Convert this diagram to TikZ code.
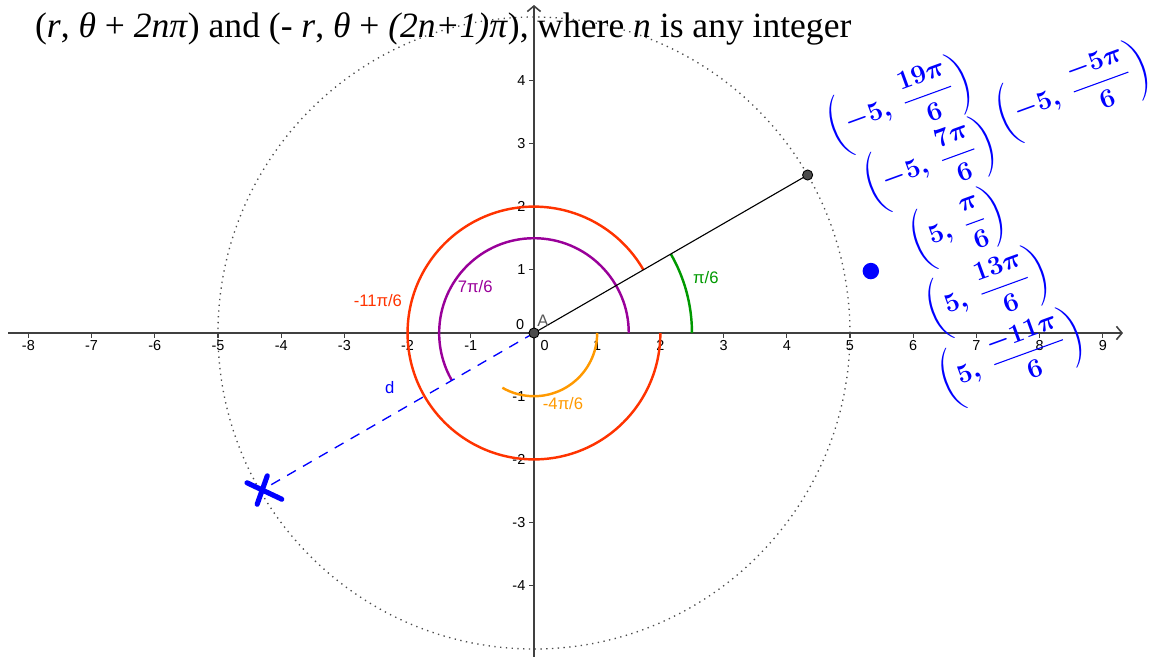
\documentclass[tikz,border=0pt]{standalone}
\usepackage{fontspec}
\usepackage{amsmath}
\setmainfont{Liberation Serif}
\newfontfamily\ggb{Liberation Sans}
\usetikzlibrary{arrows.meta}
\definecolor{ggbred}{RGB}{255,51,0}
\definecolor{ggbpurple}{RGB}{153,0,153}
\definecolor{ggbgreen}{RGB}{0,153,0}
\definecolor{ggborange}{RGB}{255,153,0}
\definecolor{axisgray}{RGB}{64,64,64}
\definecolor{ink}{RGB}{0,0,255}
\tikzset{
 axisline/.style={axisgray, line width=0.7pt, -{Straight Barb[length=2.5pt,width=6pt]}},
 tickmark/.style={axisgray, line width=0.6pt},
 ticklabel/.style={font=\ggb\fontsize{6.5}{7}\selectfont, inner sep=0pt},
 arcline/.style={line width=1.1pt},
 arclabel/.style={font=\ggb\fontsize{7.5}{9}\selectfont, inner sep=0pt},
 ptdot/.style={circle, fill=black!70, draw=black, line width=0.4pt, minimum size=0.16cm, inner sep=0pt},
 hand/.style={ink, font=\fontsize{13}{15}\selectfont\boldmath, rotate=20, inner sep=0pt},
 inkstroke/.style={ink, line width=2.3pt, line cap=round},
}
\begin{document}
\begin{tikzpicture}[x=1cm,y=1cm]
\useasboundingbox (-8.449,-5.111) rectangle (9.763,5.269);
% dotted circle
\draw[black!70, dotted, line width=0.6pt] (0,0) circle (5);
% axes
\draw[axisline] (-8.32,0) -- (9.32,0);
\draw[axisline] (0,-5.2) -- (0,5.19);
\foreach \x in {-8,-7,-6,-5,-4,-3,-2,-1,1,2,3,4,5,6,7,8,9} {
  \draw[tickmark] (\x,0) -- (\x,-0.08);
  \node[ticklabel] (xl\x) at (\x,-0.2) {\x};
}
\foreach \y in {-4,-3,-2,-1,1,2,3,4} {
  \draw[tickmark] (0,\y) -- (-0.08,\y);
  \node[ticklabel, anchor=east] (yl\y) at (-0.13,\y) {\y};
}
\node[ticklabel] (zeroA) at (-0.22,0.13) {0};
\node[ticklabel] (zeroB) at (0.17,-0.2) {0};
% points
\coordinate (Oc) at (0,0);
\coordinate (P) at (30:5);
\coordinate (Q) at (210:5);
% arcs
\draw[arcline, ggbred] (2,0) arc[start angle=0, end angle=-330, radius=2];
\draw[arcline, ggbpurple] (1.5,0) arc[start angle=0, end angle=210, radius=1.5];
\draw[arcline, ggborange] (1,0) arc[start angle=0, end angle=-120, radius=1];
\draw[arcline, ggbgreen] (2.5,0) arc[start angle=0, end angle=30, radius=2.5];
% segments
\draw[black, line width=0.5pt] (Oc) -- (P);
\draw[ink, dash pattern=on 0.16cm off 0.13cm, line width=0.6pt] (Oc) -- (Q);
\node[ptdot] (O) at (Oc) {};
\node[ptdot] (Pd) at (P) {};
% labels
\node[arclabel, text=black!65] (A) at (0.14,0.2) {A};
\node[arclabel, text=ggbgreen] (lg) at (2.72,0.87) {π/6};
\node[arclabel, text=ggbpurple] (lp) at (-0.93,0.73) {7π/6};
\node[arclabel, text=ggbred] (lr) at (-2.47,0.52) {-11π/6};
\node[arclabel, text=ggborange] (lo) at (0.46,-1.12) {-4π/6};
\node[arclabel, text=ink] (ld) at (-2.28,-0.87) {d};
% title
\node[anchor=base west, font=\fontsize{16}{18}\selectfont, inner sep=0pt] (title) at (-7.9,4.672)
 {(\textit{r}, \textit{θ} + \textit{2nπ}) and (- \textit{r}, \textit{θ} + \textit{(2n+1)π}), where \textit{n} is any integer};
% handwritten annotations
\node[hand] (h1) at (5.79,3.61) {$\left(-5,\ \dfrac{19\pi}{6}\right)$};
\node[hand] (h2) at (6.27,2.66) {$\left(-5,\ \dfrac{7\pi}{6}\right)$};
\node[hand] (h3) at (8.53,3.81) {$\left(-5,\ \dfrac{-5\pi}{6}\right)$};
\node[hand] (h4) at (6.71,1.66) {$\left(5,\ \dfrac{\pi}{6}\right)$};
\node[circle, fill=ink, minimum size=0.26cm, inner sep=0pt] (bdot) at (5.33,0.98) {};
\node[hand] (h5) at (7.18,0.65) {$\left(5,\ \dfrac{13\pi}{6}\right)$};
\node[hand] (h6) at (7.56,-0.40) {$\left(5,\ \dfrac{-11\pi}{6}\right)$};
% X mark
\draw[inkstroke] (-4.54,-2.37) -- (-3.99,-2.63);
\draw[inkstroke] (-4.22,-2.26) -- (-4.38,-2.71);
\end{tikzpicture}
\end{document}
